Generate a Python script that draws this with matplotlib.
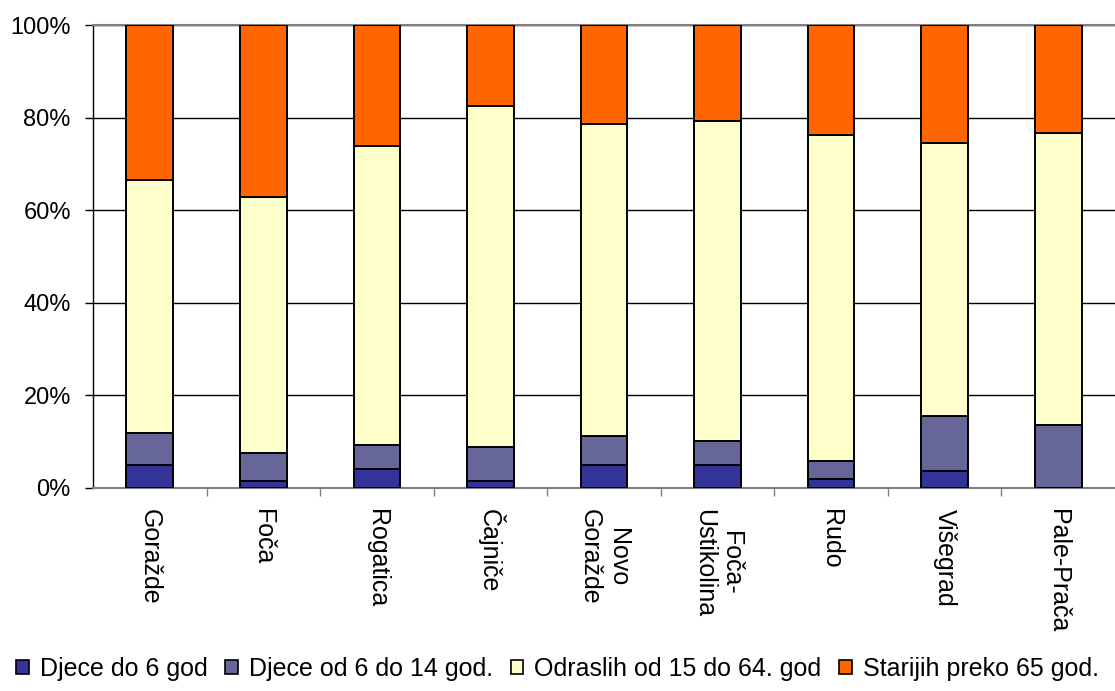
import numpy as np
import matplotlib
matplotlib.use("Agg")
import matplotlib.pyplot as plt
from matplotlib.patches import Patch
from matplotlib.ticker import PercentFormatter

plt.rcParams["font.family"] = ["Liberation Sans", "DejaVu Sans"]

# data (percent of population per municipality)
municipalities = ["Goražde", "Foča", "Rogatica", "Čajniče", "Novo\nGoražde",
                  "Foča-\nUstikolina", "Rudo", "Višegrad", "Pale-Prača"]
djeca_do_6 = [5.0, 1.6, 4.2, 1.6, 5.0, 5.0, 2.0, 3.7, 0.0]
djeca_6_14 = [6.8, 6.0, 5.1, 7.2, 6.3, 5.1, 3.9, 11.8, 13.5]
odrasli_15_64 = [54.8, 55.2, 64.5, 73.8, 67.4, 69.1, 70.3, 59.1, 63.2]
stariji_65 = [33.4, 37.2, 26.2, 17.4, 21.3, 20.8, 23.8, 25.4, 23.3]

series_names = ["Djece do 6 god", "Djece od 6 do 14 god.",
                "Odraslih od 15 do 64. god", "Starijih preko 65 god."]
colors = ["#333399", "#666699", "#FFFFCC", "#FF6600"]

fig = plt.figure(figsize=(11.15, 6.91), dpi=100)
ax = fig.add_axes([0.0834, 0.2938, 0.9166, 0.670])

x = np.arange(len(municipalities))
bottom = np.zeros(len(municipalities))
for vals, col in zip([djeca_do_6, djeca_6_14, odrasli_15_64, stariji_65], colors):
    vals = np.array(vals)
    ax.bar(x, vals, width=0.41, bottom=bottom, color=col,
           edgecolor="black", linewidth=1.4, zorder=3)
    bottom += vals

ax.set_xlim(-0.5, len(municipalities) - 0.5)
ax.set_ylim(0, 100)
ax.set_yticks(np.arange(0, 101, 20))
ax.yaxis.set_major_formatter(PercentFormatter(decimals=0))
ax.grid(axis="y", color="black", linewidth=1.0, zorder=0)

ax.set_xticks(x)
ax.set_xticklabels(municipalities, rotation=270, ha="center", va="top",
                   multialignment="center")
ax.set_xticks(np.arange(0.5, len(municipalities) - 0.5, 1.0), minor=True)
ax.tick_params(axis="x", which="major", length=0, pad=15, labelsize=18)
ax.tick_params(axis="x", which="minor", length=5.5, width=1.0, color="#808080",
               direction="out")
ax.tick_params(axis="y", length=6, width=1.0, pad=10, labelsize=17,
               direction="out")

ax.spines["right"].set_visible(False)
ax.spines["top"].set_color("#808080")
ax.spines["top"].set_linewidth(1.5)
ax.spines["bottom"].set_color("#808080")
ax.spines["bottom"].set_linewidth(1.5)
ax.spines["left"].set_color("black")
ax.spines["left"].set_linewidth(1.0)

handles = [Patch(facecolor=c, edgecolor="black", linewidth=1.2) for c in colors]
fig.legend(handles, series_names, loc="center", bbox_to_anchor=(0.5, 1 - 669 / 691),
           ncol=4, frameon=False, fontsize=18, handlelength=0.5, handleheight=0.5,
           handletextpad=0.45, columnspacing=0.7, borderaxespad=0)

fig.savefig("out.png", dpi=100)
